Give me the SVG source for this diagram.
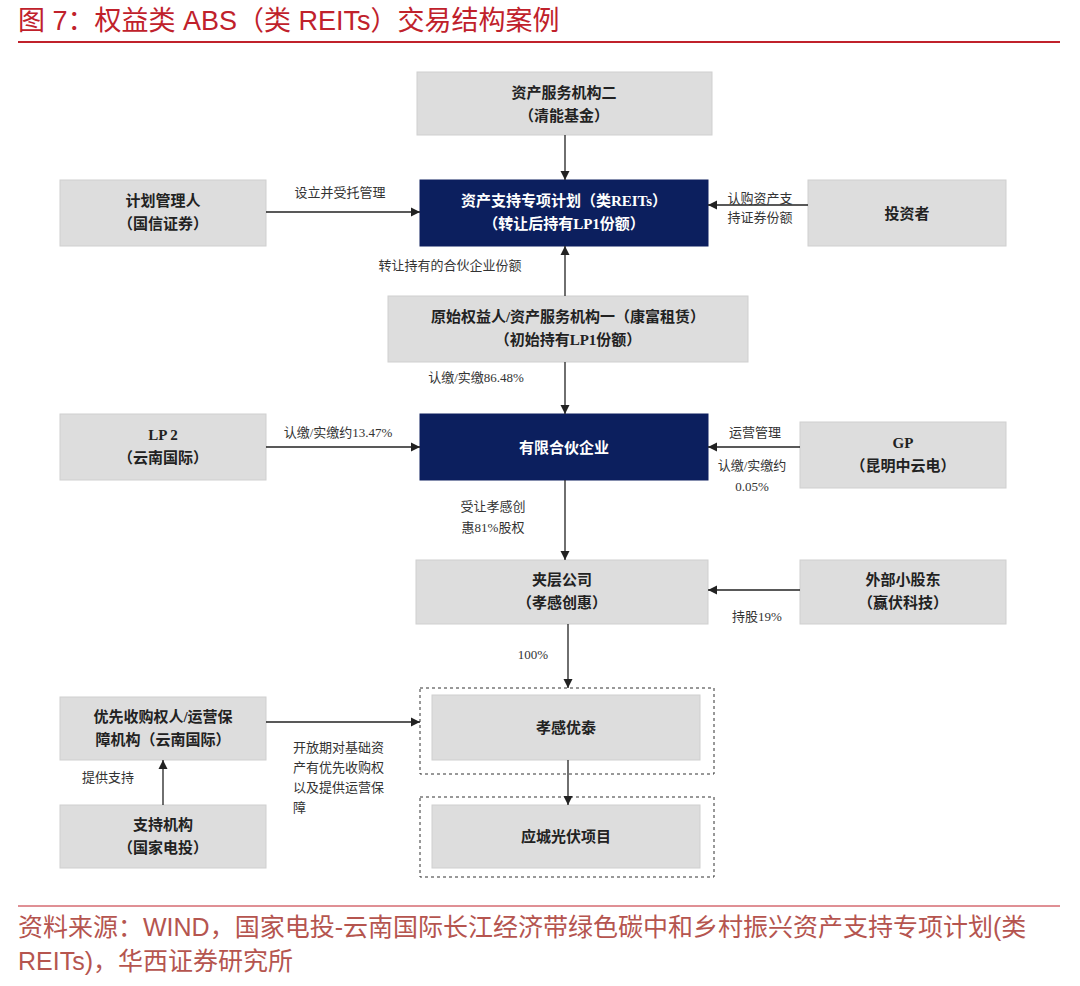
<svg xmlns="http://www.w3.org/2000/svg" width="1080" height="986" viewBox="0 0 1080 986">
<defs>
<marker id="ah" viewBox="0 0 10 10" refX="10" refY="5" markerWidth="7" markerHeight="7" orient="auto"><path d="M0,0 L10,5 L0,10 z" fill="#222"/></marker>
<style>
.box{fill:#dddddd;stroke:#cfcfcf}
.dark{fill:#0c1f5e;stroke:#0c1f5e}
.t{font-family:"Liberation Serif","Noto Sans CJK SC",serif;font-weight:bold;font-size:15px;fill:#222;text-anchor:middle}
.w{fill:#fff}
.l{font-family:"Liberation Serif","Noto Sans CJK SC",serif;font-size:13px;fill:#333;text-anchor:middle}
.ls{font-family:"Liberation Serif","Noto Sans CJK SC",serif;font-size:13px;fill:#333}
.c line{stroke:#222;stroke-width:1.3;marker-end:url(#ah)}
.dash{fill:none;stroke:#333;stroke-dasharray:3,3}
.r{font-family:"Liberation Sans","Noto Sans CJK SC",sans-serif;font-size:27px;fill:#c0212b}
.s{font-family:"Liberation Sans","Noto Sans CJK SC",sans-serif;font-size:25px;fill:#b5554f}
</style>
</defs>
<rect width="1080" height="986" fill="#fff"/>
<text class="r" x="18" y="30">图 7：权益类 ABS（类 REITs）交易结构案例</text>
<line x1="18" y1="42" x2="1060" y2="42" stroke="#c0212b" stroke-width="2"/>

<g id="n1"><rect class="box" x="417" y="72" width="295" height="63"/><text class="t" x="564" y="98">资产服务机构二</text><text class="t" x="564" y="121">（清能基金）</text></g>
<g id="n2"><rect class="box" x="60" y="180" width="206" height="66"/><text class="t" x="163" y="206">计划管理人</text><text class="t" x="163" y="229">（国信证券）</text></g>
<g id="n3"><rect class="dark" x="420" y="180" width="288" height="66"/><text class="t w" x="564" y="206">资产支持专项计划（类REITs）</text><text class="t w" x="564" y="229">（转让后持有LP1份额）</text></g>
<g id="n4"><rect class="box" x="808" y="180" width="198" height="66"/><text class="t" x="907" y="219">投资者</text></g>
<g id="n5"><rect class="box" x="388" y="296" width="360" height="66"/><text class="t" x="568" y="322">原始权益人/资产服务机构一（康富租赁）</text><text class="t" x="568" y="345">（初始持有LP1份额）</text></g>
<g id="n6"><rect class="box" x="60" y="414" width="206" height="66"/><text class="t" x="163" y="440">LP 2</text><text class="t" x="163" y="463">（云南国际）</text></g>
<g id="n7"><rect class="dark" x="420" y="414" width="288" height="66"/><text class="t w" x="564" y="453">有限合伙企业</text></g>
<g id="n8"><rect class="box" x="800" y="422" width="206" height="66"/><text class="t" x="903" y="448">GP</text><text class="t" x="903" y="471">（昆明中云电）</text></g>
<g id="n9"><rect class="box" x="416" y="560" width="292" height="64"/><text class="t" x="562" y="585">夹层公司</text><text class="t" x="562" y="608">（孝感创惠）</text></g>
<g id="n10"><rect class="box" x="800" y="560" width="206" height="64"/><text class="t" x="903" y="585">外部小股东</text><text class="t" x="903" y="608">（赢伏科技）</text></g>
<g id="n11"><rect class="dash" x="420" y="688" width="294" height="86"/><rect class="box" x="432" y="695" width="268" height="65"/><text class="t" x="566" y="733">孝感优泰</text></g>
<g id="n12"><rect class="dash" x="420" y="797" width="294" height="80"/><rect class="box" x="432" y="805" width="268" height="63"/><text class="t" x="566" y="842">应城光伏项目</text></g>
<g id="n13"><rect class="box" x="60" y="697" width="206" height="63"/><text class="t" x="163" y="722">优先收购权人/运营保</text><text class="t" x="163" y="745">障机构（云南国际）</text></g>
<g id="n14"><rect class="box" x="60" y="805" width="206" height="63"/><text class="t" x="163" y="830">支持机构</text><text class="t" x="163" y="853">（国家电投）</text></g>

<g class="c">
<line x1="565" y1="135" x2="565" y2="180"/>
<line x1="266" y1="212" x2="420" y2="212"/>
<line x1="808" y1="205" x2="708" y2="205"/>
<line x1="565" y1="296" x2="565" y2="246"/>
<line x1="565" y1="362" x2="565" y2="414"/>
<line x1="266" y1="447" x2="420" y2="447"/>
<line x1="800" y1="447" x2="708" y2="447"/>
<line x1="565" y1="480" x2="565" y2="560"/>
<line x1="800" y1="590" x2="708" y2="590"/>
<line x1="568" y1="624" x2="568" y2="688"/>
<line x1="266" y1="722" x2="420" y2="722"/>
<line x1="163" y1="805" x2="163" y2="760"/>
<line x1="568" y1="760" x2="568" y2="805"/>
</g>
<g id="labels">
<text class="l" x="340" y="197">设立并受托管理</text>
<text class="l" x="760" y="203">认购资产支</text><text class="l" x="760" y="222">持证券份额</text>
<text class="l" x="450" y="270">转让持有的合伙企业份额</text>
<text class="l" x="476" y="382">认缴/实缴86.48%</text>
<text class="l" x="338" y="437">认缴/实缴约13.47%</text>
<text class="l" x="755" y="437">运营管理</text>
<text class="l" x="752" y="470">认缴/实缴约</text><text class="l" x="752" y="491">0.05%</text>
<text class="l" x="493" y="511">受让孝感创</text><text class="l" x="493" y="532">惠81%股权</text>
<text class="l" x="757" y="621">持股19%</text>
<text class="l" x="533" y="659">100%</text>
<text class="ls" x="293" y="752">开放期对基础资</text>
<text class="ls" x="293" y="772">产有优先收购权</text>
<text class="ls" x="293" y="792">以及提供运营保</text>
<text class="ls" x="293" y="812">障</text>
<text class="l" x="108" y="782">提供支持</text>
</g>
<line x1="18" y1="906" x2="1060" y2="906" stroke="#c0212b" stroke-width="1"/>
<text class="s" x="18" y="936">资料来源：WIND，国家电投-云南国际长江经济带绿色碳中和乡村振兴资产支持专项计划(类</text>
<text class="s" x="18" y="970">REITs)，华西证券研究所</text>
</svg>
